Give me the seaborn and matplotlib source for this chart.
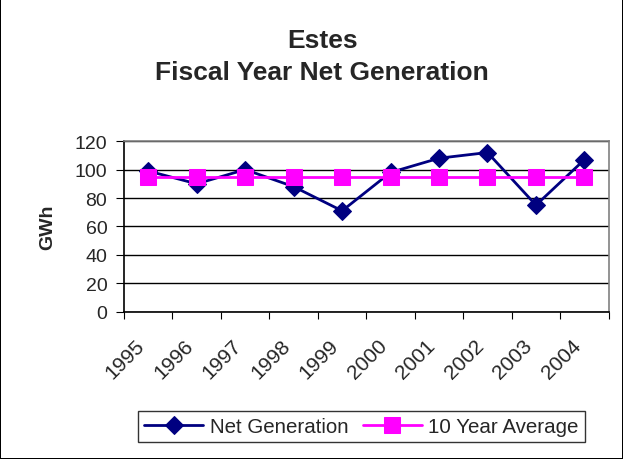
import pandas as pd
import matplotlib
matplotlib.use("Agg")
import matplotlib.pyplot as plt
import seaborn as sns

years = ["1995", "1996", "1997", "1998", "1999", "2000", "2001", "2002", "2003", "2004"]
net_generation = [99, 90, 100, 88, 71, 98, 108, 112, 75, 107]
ten_year_average = [95, 95, 95, 95, 95, 95, 95, 95, 95, 95]

sns.set_style("white")
plt.rcParams["font.family"] = ["Liberation Sans", "DejaVu Sans"]

df = pd.DataFrame({"Year": years, "Net Generation": net_generation,
                   "10 Year Average": ten_year_average})

fig = plt.figure(figsize=(6.23, 4.60), dpi=100, linewidth=1.2, edgecolor="black")
ax = fig.add_axes([0.199, 0.320, 0.778, 0.371])

sns.lineplot(data=df, x="Year", y="Net Generation", ax=ax, color="#000080",
             marker="D", markersize=9.5, linewidth=2, label="Net Generation",
             markeredgecolor="#000080")
sns.lineplot(data=df, x="Year", y="10 Year Average", ax=ax, color="#FF00FF",
             marker="s", markersize=11, linewidth=2, label="10 Year Average",
             markeredgecolor="#FF00FF")

ax.set_ylim(0, 120)
ax.set_xlim(-0.5, len(years) - 0.5)
ax.set_yticks(range(0, 121, 20))
ax.yaxis.grid(True, color="black", linewidth=1)
ax.set_axisbelow(True)

# tick marks between categories, labels at category centres
ax.set_xticks([i - 0.5 for i in range(len(years) + 1)])
ax.set_xticklabels([])
ax.set_xticks(range(len(years)), minor=True)
ax.set_xticklabels(years, minor=True, rotation=45, ha="right", va="bottom",
                   rotation_mode="anchor", fontsize=15)
ax.tick_params(axis="x", which="minor", length=0, pad=26.5)
ax.tick_params(axis="x", which="major", length=5, direction="out", color="black", bottom=True)
ax.tick_params(axis="y", labelsize=14, length=6, pad=6, direction="out", color="black", left=True)
ax.set_xlabel("")
ax.set_ylabel("GWh", fontsize=14, fontweight="bold", labelpad=13)

for side in ["top", "right"]:
    ax.spines[side].set_color("#808080")
    ax.spines[side].set_linewidth(1.2)
for side in ["left", "bottom"]:
    ax.spines[side].set_color("black")
    ax.spines[side].set_linewidth(1.2)

fig.suptitle("Estes\nFiscal Year Net Generation", x=0.517, y=0.938, fontsize=19,
             fontweight="bold", linespacing=1.42)

handles, labels = ax.get_legend_handles_labels()
ax.get_legend().remove()
fig.legend(handles, labels, loc="center", bbox_to_anchor=(0.580, 0.070), ncol=2,
           fontsize=14.8, frameon=True, fancybox=False, edgecolor="black",
           handlelength=2.9, columnspacing=0.7, borderpad=0.3, handletextpad=0.3)

fig.savefig("out.png", dpi=100)
